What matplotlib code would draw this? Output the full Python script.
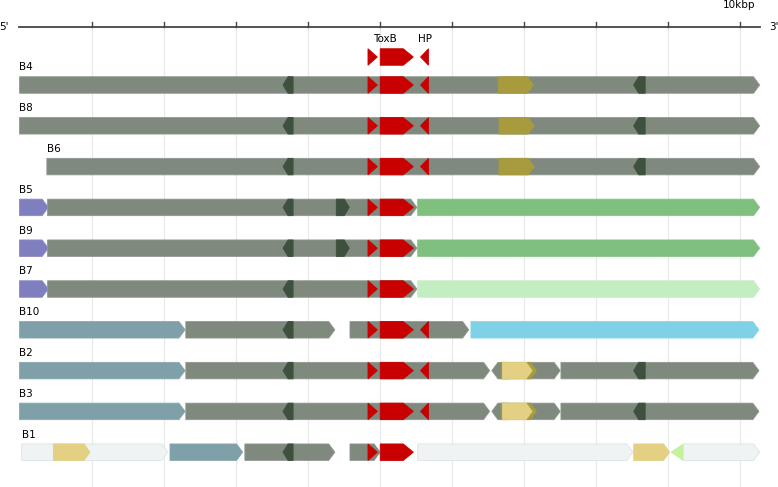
import matplotlib
matplotlib.use('Agg')
import matplotlib.pyplot as plt
from matplotlib.patches import Polygon

# gene maps, coordinates in kbp: (family, start, end, strand)
track_names = ['B4', 'B8', 'B6', 'B5', 'B9', 'B7', 'B10', 'B2', 'B3', 'B1']

header = [('red', 4.84, 4.97, 1), ('toxb', 5.01, 5.47, 1), ('hp', 5.57, 5.68, -1)]
header_labels = [('ToxB', 5.08), ('HP', 5.63)]

b4 = [('core', 0.00, 10.28, 1), ('dark', 3.66, 3.80, -1), ('red', 4.84, 4.97, 1),
      ('toxb', 5.01, 5.47, 1), ('hp', 5.57, 5.68, -1), ('olive', 6.65, 7.14, 1),
      ('dark', 8.53, 8.69, -1)]
b8 = [('core', 0.00, 10.28, 1), ('dark', 3.66, 3.80, -1), ('red', 4.84, 4.97, 1),
      ('toxb', 5.01, 5.47, 1), ('hp', 5.57, 5.68, -1), ('olive', 6.66, 7.15, 1),
      ('dark', 8.53, 8.69, -1)]
b6 = [('core', 0.38, 10.28, 1), ('dark', 3.66, 3.80, -1), ('red', 4.84, 4.97, 1),
      ('toxb', 5.01, 5.47, 1), ('hp', 5.57, 5.68, -1), ('olive', 6.66, 7.15, 1),
      ('dark', 8.53, 8.69, -1)]
b5 = [('purple', 0.00, 0.40, 1), ('core', 0.39, 5.52, 1), ('dark', 3.66, 3.80, -1),
      ('dark', 4.40, 4.58, 1), ('red', 4.84, 4.97, 1), ('toxb', 5.01, 5.47, 1),
      ('green', 5.53, 10.28, 1)]
b9 = [('purple', 0.00, 0.40, 1), ('core', 0.39, 5.52, 1), ('dark', 3.66, 3.80, -1),
      ('dark', 4.40, 4.58, 1), ('red', 4.84, 4.97, 1), ('toxb', 5.01, 5.47, 1),
      ('green', 5.53, 10.28, 1)]
b7 = [('purple', 0.00, 0.40, 1), ('core', 0.39, 5.52, 1), ('dark', 3.66, 3.80, -1),
      ('red', 4.84, 4.97, 1), ('toxb', 5.01, 5.47, 1), ('ltgreen', 5.53, 10.28, 1)]
b10 = [('steel', 0.00, 2.30, 1), ('core', 2.31, 4.38, 1), ('dark', 3.66, 3.80, -1),
       ('core', 4.59, 6.24, 1), ('red', 4.84, 4.97, 1), ('toxb', 5.01, 5.47, 1),
       ('hp', 5.57, 5.68, -1), ('cyan', 6.27, 10.27, 1)]
b2 = [('steel', 0.00, 2.30, 1), ('core', 2.31, 6.53, 1), ('dark', 3.66, 3.80, -1),
      ('red', 4.84, 4.97, 1), ('toxb', 5.01, 5.47, 1), ('hp', 5.57, 5.68, -1),
      ('core', 6.56, 6.80, -1), ('core', 7.05, 7.51, 1), ('olive', 6.69, 7.18, 1),
      ('yellow', 6.71, 7.12, 1), ('core', 7.52, 10.27, 1), ('dark', 8.53, 8.69, -1)]
b3 = [('steel', 0.00, 2.30, 1), ('core', 2.31, 6.53, 1), ('dark', 3.66, 3.80, -1),
      ('red', 4.84, 4.97, 1), ('toxb', 5.01, 5.47, 1), ('hp', 5.57, 5.68, -1),
      ('core', 6.56, 6.80, -1), ('core', 7.05, 7.51, 1), ('olive', 6.69, 7.18, 1),
      ('yellow', 6.71, 7.12, 1), ('core', 7.52, 10.27, 1), ('dark', 8.53, 8.69, -1)]
b1 = [('ltgrey', 0.03, 2.06, 1), ('yellow', 0.47, 0.98, 1), ('steel', 2.09, 3.10, 1),
      ('core', 3.13, 4.38, 1), ('dark', 3.66, 3.80, -1), ('core', 4.59, 5.01, 1),
      ('red', 4.84, 4.97, 1), ('toxb', 5.01, 5.47, 1), ('ltgrey', 5.53, 8.52, 1),
      ('yellow', 8.53, 9.03, 1), ('lime', 9.05, 9.22, -1), ('ltgrey', 9.22, 10.28, 1)]
tracks = [b4, b8, b6, b5, b9, b7, b10, b2, b3, b1]

ticks_kb = [1, 2, 3, 4, 5, 6, 7, 8, 9, 10]
axis_end_kb = 10.28

# styles: family -> (face, edge, head length in kbp; None = full triangle)
style = {
    'core':    ('#7f897e', '#8f988e', 0.085),
    'dark':    ('#3e503e', '#3e503e', 0.07),
    'red':     ('#c80000', '#c80000', None),
    'toxb':    ('#c80000', '#c80000', 0.14),
    'hp':      ('#c80000', '#c80000', None),
    'olive':   ('#a89b3e', '#a89b3e', 0.085),
    'purple':  ('#7f7fc0', '#8a8ac4', 0.085),
    'green':   ('#7fc07f', '#8ac48a', 0.085),
    'ltgreen': ('#c2eec2', '#c8eec8', 0.085),
    'cyan':    ('#7fd2e6', '#8ad6e8', 0.085),
    'steel':   ('#7fa0a9', '#8aa8b0', 0.085),
    'yellow':  ('#e4d082', '#e4d082', 0.085),
    'ltgrey':  ('#f0f3f4', '#dde3e6', 0.085),
    'lime':    ('#c2f29a', '#c2f29a', None),
}

W, H = 778, 487
fig = plt.figure(figsize=(W / 100, H / 100), dpi=100)
ax = fig.add_axes([0, 0, 1, 1])
# x in kbp (px = 19.5 + 72 * kb), y in pixels from top
ax.set_xlim(-19.5 / 72, (W - 19.5) / 72)
ax.set_ylim(H, 0)
ax.axis('off')

axis_y = 27
header_y = 57
track_y0 = 85
track_gap = 40.8
gh = 16.5


def draw_gene(fam, s, e, strand, y):
    face, edge, head = style[fam]
    length = e - s
    hl = length if head is None else min(head, length)
    top, bot = y - gh / 2, y + gh / 2
    if strand > 0:
        pts = [(s, top), (e - hl, top), (e, y), (e - hl, bot), (s, bot)]
    else:
        pts = [(e, top), (s + hl, top), (s, y), (s + hl, bot), (e, bot)]
    ax.add_patch(Polygon(pts, closed=True, facecolor=face, edgecolor=edge,
                         lw=0.6, joinstyle='miter', zorder=3))


# scale bar + grid
for t in ticks_kb:
    ax.plot([t, t], [axis_y, H], color='#e8e8e8', lw=0.8, zorder=1)
    ax.plot([t, t], [axis_y - 5, axis_y], color='#444444', lw=1.0, zorder=2)
ax.plot([-0.01, axis_end_kb], [axis_y, axis_y], color='#444444', lw=1.3, zorder=2)
ax.text(10, 5, '10kbp', ha='center', va='center', fontsize=7.5)
ax.text(8.5 / 72 - 19.5 / 72, axis_y, "5'", ha='right', va='center', fontsize=7.5)
ax.text((769 - 19.5) / 72, axis_y, "3'", ha='left', va='center', fontsize=7.5)

# ToxB / HP header
for g in header:
    draw_gene(*g, header_y)
for lab, x in header_labels:
    ax.text(x, header_y - 18, lab, ha='center', va='center', fontsize=7.5)

for i, (name, genes) in enumerate(zip(track_names, tracks)):
    y = track_y0 + i * track_gap
    for g in genes:
        draw_gene(*g, y)
    start = min(g[1] for g in genes)
    ax.text(start, y - 17.5, name, ha='left', va='center', fontsize=7.5)

fig.savefig('out.png', dpi=100, facecolor='white')
plt.close(fig)
